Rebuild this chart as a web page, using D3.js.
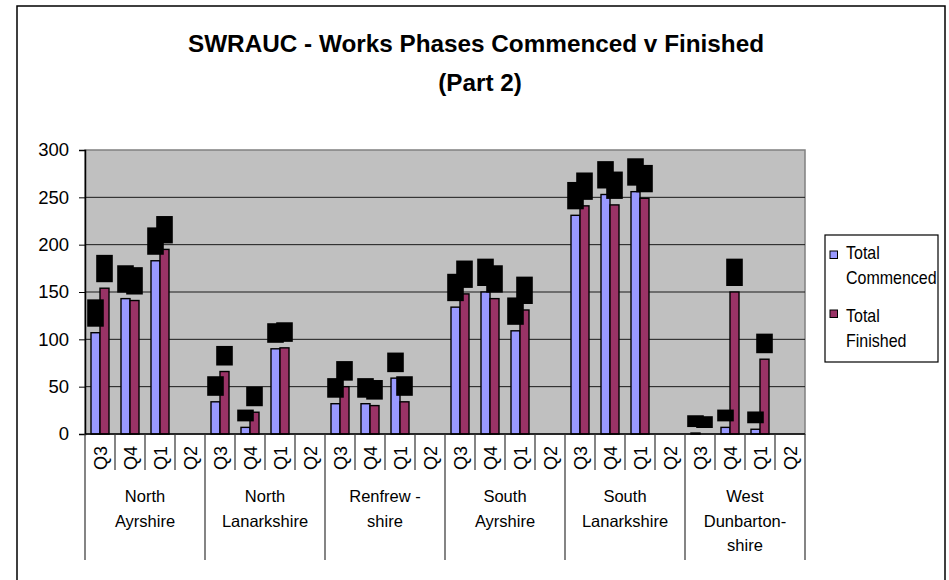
<!DOCTYPE html>
<html>
<head>
<meta charset="utf-8">
<script src="https://cdn.jsdelivr.net/npm/d3@7"></script>
<style>
  html, body { margin: 0; padding: 0; background: #fff; }
  text { font-family: "Liberation Sans", Arial, sans-serif; }
</style>
</head>
<body>
<svg id="chart" width="949" height="580"></svg>
<script>
// ---------------- data ----------------
const titleLines = ["SWRAUC - Works Phases Commenced v Finished", "(Part 2)"];
const regions = [
  ["North", "Ayrshire"],
  ["North", "Lanarkshire"],
  ["Renfrew -", "shire"],
  ["South", "Ayrshire"],
  ["South", "Lanarkshire"],
  ["West", "Dunbarton-", "shire"]
];
const quarters = ["Q3", "Q4", "Q1", "Q2"];
const seriesNames = ["Total Commenced", "Total Finished"];
const legendLines = [["Total", "Commenced"], ["Total", "Finished"]];
const commenced = [107, 143, 183, null, 34, 7, 90, null, 32, 32, 59, null, 134, 150, 109, null, 231, 253, 256, null, 1, 7, 5, null];
const finished  = [154, 141, 195, null, 66, 23, 91, null, 50, 30, 34, null, 148, 143, 131, null, 241, 242, 249, null, 0, 150, 79, null];
const yTicks = [0, 50, 100, 150, 200, 250, 300];
const colors = ["#9999FF", "#993366"];

// ---------------- layout ----------------
const svg = d3.select("#chart");
const plot = { left: 85, right: 805, top: 150, bottom: 434 };

// outer frame
svg.append("rect").attr("x", 17).attr("y", 6).attr("width", 928).attr("height", 600)
  .attr("fill", "#fff").attr("stroke", "#000").attr("stroke-width", 1.5);

// title
titleLines.forEach((t, i) => {
  svg.append("text")
    .attr("x", i === 0 ? 476 : 480).attr("y", i === 0 ? 52 : 91)
    .attr("text-anchor", "middle")
    .attr("font-size", 24.3).attr("font-weight", "bold")
    .text(t);
});

const cats = [];
regions.forEach((r, ri) => quarters.forEach((q, qi) => cats.push(ri + "-" + qi)));

const x = d3.scaleBand().domain(cats).range([plot.left, plot.right]).padding(0);
const xs = d3.scaleBand().domain([0, 1]).range([6, x.bandwidth() - 6]).padding(0);
const y = d3.scaleLinear().domain([0, 300]).range([plot.bottom, plot.top]);

// plot background
svg.append("rect").attr("x", plot.left).attr("y", plot.top)
  .attr("width", plot.right - plot.left).attr("height", plot.bottom - plot.top)
  .attr("fill", "#C0C0C0").attr("stroke", "#808080").attr("stroke-width", 1.5);

// gridlines
svg.append("g").selectAll("line").data(yTicks.filter(v => v > 0 && v < 300)).join("line")
  .attr("x1", plot.left).attr("x2", plot.right)
  .attr("y1", d => y(d)).attr("y2", d => y(d))
  .attr("stroke", "#1a1a1a").attr("stroke-width", 1);

// y axis
const yAxis = d3.axisLeft(y).tickValues(yTicks).tickSize(6).tickPadding(10).tickFormat(d3.format("d"));
const yg = svg.append("g").attr("transform", `translate(${plot.left},0)`).call(yAxis);
yg.select(".domain").attr("stroke", "#000").attr("stroke-width", 1.5);
yg.selectAll(".tick line").attr("stroke", "#000");
yg.selectAll(".tick text").attr("font-size", 18.5).attr("fill", "#000")
  .attr("font-family", '"Liberation Sans", Arial, sans-serif');

// bars
const data = [commenced, finished];
data.forEach((vals, si) => {
  svg.append("g").selectAll("rect")
    .data(vals.map((v, i) => ({ v, c: cats[i] })).filter(d => d.v !== null))
    .join("rect")
    .attr("x", d => x(d.c) + xs(si))
    .attr("y", d => y(d.v))
    .attr("width", xs.bandwidth())
    .attr("height", d => y(0) - y(d.v))
    .attr("fill", colors[si])
    .attr("stroke", "#000").attr("stroke-width", 1.4);
});

// data labels (black boxes)
data.forEach((vals, si) => {
  const g = svg.append("g");
  vals.forEach((v, i) => {
    if (v === null) return;
    const cx = x(cats[i]) + xs(si) + xs.bandwidth() / 2;
    const bottom = y(v) - 6;
    const lg = g.append("g");
    const rect = lg.append("rect").attr("fill", "#000");
    const t = lg.append("text")
      .attr("transform", `translate(${cx + 5},${bottom - 2}) rotate(-90)`)
      .attr("font-size", 14).attr("fill", "#000")
      .text(v);
    const len = t.node().getComputedTextLength();
    rect.attr("x", cx - 8.3).attr("y", bottom - len - 4).attr("width", 16.6).attr("height", len + 4);
  });
});

// x axis line
svg.append("line").attr("x1", plot.left).attr("x2", plot.right)
  .attr("y1", plot.bottom).attr("y2", plot.bottom)
  .attr("stroke", "#000").attr("stroke-width", 1.5);

// category tick lines
const bounds = d3.range(cats.length + 1);
svg.append("g").selectAll("line").data(bounds).join("line")
  .attr("x1", i => plot.left + i * x.bandwidth()).attr("x2", i => plot.left + i * x.bandwidth())
  .attr("y1", plot.bottom).attr("y2", i => (i % quarters.length === 0) ? 560 : 470)
  .attr("stroke", "#333").attr("stroke-width", 1.2);

// quarter labels
svg.append("g").selectAll("text").data(cats).join("text")
  .attr("transform", (c, i) => `translate(${x(c) + x.bandwidth() / 2 + 6.5},446) rotate(-90)`)
  .attr("text-anchor", "end")
  .attr("font-size", 18)
  .text((c, i) => quarters[i % quarters.length]);

// region labels
regions.forEach((lines, ri) => {
  const cx = x(cats[ri * quarters.length]) + x.bandwidth() * quarters.length / 2;
  lines.forEach((ln, li) => {
    svg.append("text")
      .attr("x", cx).attr("y", 502 + li * 24.5)
      .attr("text-anchor", "middle")
      .attr("font-size", 16.5)
      .text(ln);
  });
});

// legend
svg.append("rect").attr("x", 825).attr("y", 235).attr("width", 113).attr("height", 127)
  .attr("fill", "#fff").attr("stroke", "#000").attr("stroke-width", 1.2);
legendLines.forEach((lines, si) => {
  const top = 251 + si * 59;
  svg.append("rect").attr("x", 830).attr("y", top).attr("width", 7.5).attr("height", 7.5)
    .attr("fill", colors[si]).attr("stroke", "#000").attr("stroke-width", 1);
  lines.forEach((ln, li) => {
    svg.append("text")
      .attr("transform", `translate(846,${259 + si * 63 + li * 25}) scale(1,1.2)`)
      .attr("font-size", 16)
      .text(ln);
  });
});
</script>
</body>
</html>
